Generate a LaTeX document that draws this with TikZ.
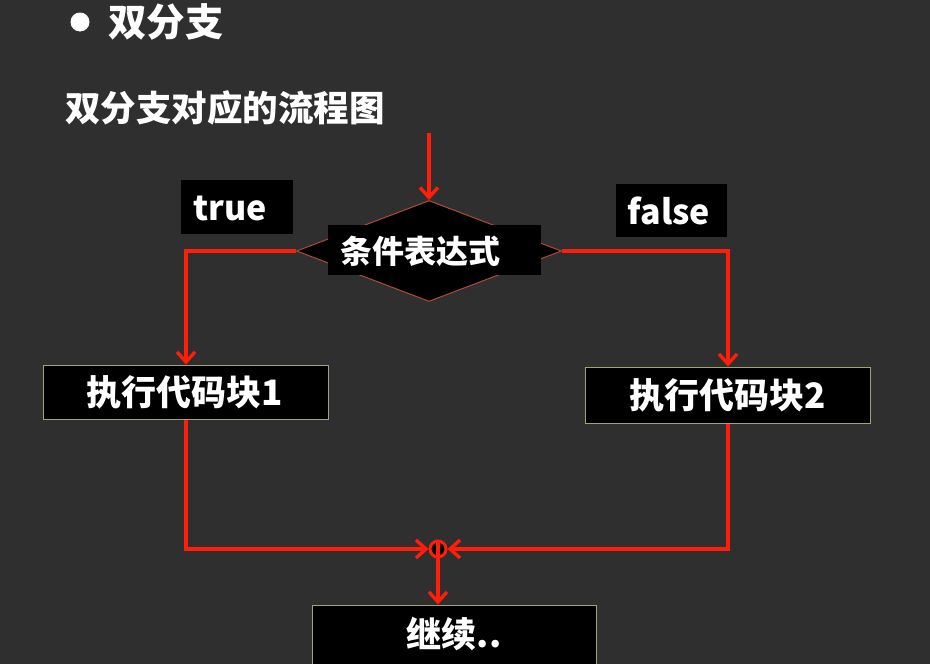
\documentclass[tikz,border=0pt]{standalone}
\usepackage{fontspec}
\setmainfont{Noto Sans CJK SC}
\usetikzlibrary{arrows.meta,shapes.geometric}
\definecolor{board}{HTML}{2F2F2F}
\definecolor{flow}{HTML}{FF1E0A}
\definecolor{rim}{HTML}{B04A3A}
\definecolor{boxrim}{HTML}{A3A37A}
\begin{document}
\begin{tikzpicture}[x=1pt,y=-1pt,
  txt/.style={text=white,font=\bfseries\fontsize{#1}{#1}\selectfont,inner sep=0pt},
  blackbox/.style={fill=black,draw=none,inner sep=0pt},
  codebox/.style={fill=black,draw=boxrim,line width=1pt,inner sep=0pt},
  flowline/.style={draw=flow,line width=3.6pt},
  flowarrow/.style={flowline,-{Straight Barb[length=10pt,width=18pt,line width=3.4pt]}}]
% board
\fill[board] (0,0) rectangle (930,664);
\useasboundingbox (0,0) rectangle (930,664);
% headings
\fill[white] (80,22) circle (9.5);
\node[txt=38.5,anchor=west] (title) at (108,22) {双分支};
\node[txt=35.5,anchor=west] (sub) at (65,108) {双分支对应的流程图};
% decision
\coordinate (start) at (429,133);
\node[diamond,fill=black,draw=rim,line width=1pt,minimum width=265pt,minimum height=101pt,inner sep=0pt,aspect=2.6] (cond) at (429,251) {};
\node[blackbox,minimum width=213pt,minimum height=50pt] (condlbl) at (434,250) {};
\node[txt=32] (condtxt) at (420,251) {条件表达式};
% branch labels
\node[blackbox,minimum width=112pt,minimum height=54pt] (tlbl) at (237,207) {};
\node[txt=34] (ttxt) at (230,208) {true};
\node[blackbox,minimum width=111pt,minimum height=53pt] (flbl) at (671,210) {};
\node[txt=34] (ftxt) at (669,211) {false};
% code blocks
\node[codebox,minimum width=285pt,minimum height=54pt] (b1) at (185.5,392) {};
\node[txt=35] (b1txt) at (185,392) {执行代码块1};
\node[codebox,minimum width=285pt,minimum height=56pt] (b2) at (727.5,395) {};
\node[txt=35] (b2txt) at (728,395) {执行代码块2};
% continue
\node[codebox,minimum width=284pt,minimum height=62pt] (cont) at (454,636) {};
\node[txt=35] (conttxt) at (454,634) {继续..};
% junction
\node[circle,fill=black,draw=flow,line width=3pt,minimum size=16pt,inner sep=0pt] (join) at (438,549) {};
% connectors
\draw[flowarrow] (start) -- (cond.north);
\draw[flowarrow] (cond.west) -| (b1.north -| 186,0);
\draw[flowarrow] (cond.east) -| (b2.north -| 728,0);
\draw[flowarrow] (b1.south -| 186,0) |- (join.west);
\draw[flowarrow] (b2.south -| 728,0) |- (join.east);
\draw[flowline] (join.north) -- (join.center);
\draw[flowarrow] (join.center) -- (cont.north -| join.center);
\end{tikzpicture}
\end{document}
